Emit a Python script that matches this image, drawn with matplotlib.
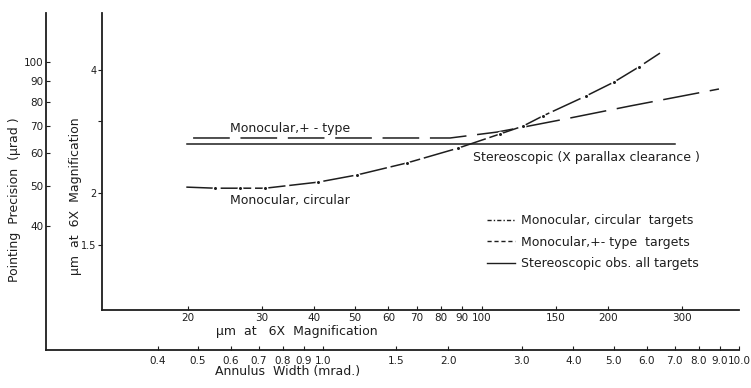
import numpy as np
import matplotlib
matplotlib.use("Agg")
import matplotlib.pyplot as plt
from matplotlib.lines import Line2D
from matplotlib.ticker import FixedLocator, FixedFormatter, NullLocator

###
# Data (outer axes = mrad / µrad)
###

# stereoscopic, X parallax clearance
stereo_mrad = [0.47, 7.0]
stereo_urad = [63.4, 63.4]

# monocular, +- type targets
plus_mrad = [0.487, 2.02, 2.62, 3.03, 3.71, 5.47, 8.95]
plus_urad = [65.4, 65.4, 67.6, 69.5, 72.3, 78.2, 86.0]

# monocular, circular targets (dots = measured points)
circ_mrad = [0.469, 0.550, 0.632, 0.726, 0.973, 1.207, 1.592, 2.112,
             2.665, 3.026, 3.379, 4.287, 5.006, 5.748, 6.457]
circ_urad = [49.7, 49.4, 49.4, 49.4, 51.1, 53.2, 56.9, 61.8,
             66.9, 69.9, 74.0, 82.7, 89.4, 97.3, 105.1]

# tick values
mrad_ticks = [0.4, 0.5, 0.6, 0.7, 0.8, 0.9, 1.0, 1.5, 2.0, 3.0, 4.0, 5.0, 6.0, 7.0, 8.0, 9.0, 10.0]
mrad_labels = ["0.4", "0.5", "0.6", "0.7", "0.8", "0.9", "1.0", "1.5", "2.0", "3.0", "4.0",
               "5.0", "6.0", "7.0", "8.0", "9.0", "10.0"]
urad_ticks = [40, 50, 60, 70, 80, 90, 100]
um_x_ticks = [20, 30, 40, 50, 60, 70, 80, 90, 100, 150, 200, 300]
um_y_ticks = [1.5, 2, 3, 4]
um_y_labels = ["1.5", "2", "", "4"]

###
# Figure
###
W, H = 751, 388
fig = plt.figure(figsize=(W / 100, H / 100), dpi=100)
plt.rcParams['font.family'] = 'DejaVu Sans'
ink = '#1e1e1e'

def fx(px):
    return px / W

def fy(py):
    return 1 - py / H

# outer axes (annulus width / pointing precision)
ax = fig.add_axes([fx(46), fy(350), fx(739 - 46), (350 - 13) / H])
ax.set_xscale('log')
ax.set_yscale('log')
ax.set_xlim(0.2157, 10.0)
ax.set_ylim(20.0, 131.5)

# inner axes (µm at 6X magnification)
ax2 = fig.add_axes([fx(102), fy(310), fx(739 - 102), (310 - 13) / H])
ax2.set_xscale('log')
ax2.set_yscale('log')
ax2.set_xlim(12.48, 410)
ax2.set_ylim(1.039, 5.51)
ax2.patch.set_alpha(0)

for a in (ax, ax2):
    a.spines['top'].set_visible(False)
    a.spines['right'].set_visible(False)
    a.spines['left'].set_color(ink)
    a.spines['bottom'].set_color(ink)
    a.spines['left'].set_linewidth(1.3)
    a.spines['bottom'].set_linewidth(1.3)
    a.xaxis.set_minor_locator(NullLocator())
    a.yaxis.set_minor_locator(NullLocator())

ax.xaxis.set_major_locator(FixedLocator(mrad_ticks))
ax.xaxis.set_major_formatter(FixedFormatter(mrad_labels))
ax.yaxis.set_major_locator(FixedLocator(urad_ticks))
ax.yaxis.set_major_formatter(FixedFormatter([str(v) for v in urad_ticks]))
ax.tick_params(axis='x', direction='in', length=3, pad=4, labelsize=7.5, colors=ink)
ax.tick_params(axis='y', direction='in', length=3, pad=2, labelsize=7.5, colors=ink)

ax2.xaxis.set_major_locator(FixedLocator(um_x_ticks))
ax2.xaxis.set_major_formatter(FixedFormatter([str(v) for v in um_x_ticks]))
ax2.yaxis.set_major_locator(FixedLocator(um_y_ticks))
ax2.yaxis.set_major_formatter(FixedFormatter(um_y_labels))
ax2.tick_params(axis='x', direction='in', length=3, pad=2, labelsize=7.5, colors=ink)
ax2.tick_params(axis='y', direction='out', length=3, pad=1, labelsize=7, colors=ink)

# curves
ax.plot(stereo_mrad, stereo_urad, color=ink, lw=1.1, zorder=3)
ax.plot(plus_mrad, plus_urad, color=ink, lw=1.1, dashes=(24, 7), zorder=3)
ax.plot(circ_mrad, circ_urad, color=ink, lw=1.1, dashes=(20, 2.5),
        marker='o', ms=3.2, mfc=ink, mec='white', mew=1.0,
        markevery=list(range(1, 14)), zorder=4)

# curve labels
fs = 9
ax.text(0.598, 69.1, "Monocular,+ - type", fontsize=fs, color=ink, va='center', ha='left')
ax.text(0.598, 46.2, "Monocular, circular", fontsize=fs, color=ink, va='center', ha='left')
ax.text(2.294, 58.8, "Stereoscopic (X parallax clearance )", fontsize=fs, color=ink,
        va='center', ha='left')

# legend
handles = [
    Line2D([], [], color=ink, lw=1.0, dashes=(3, 1.5, 1, 1.5)),
    Line2D([], [], color=ink, lw=1.0, dashes=(3, 2)),
    Line2D([], [], color=ink, lw=1.0),
]
labels = ["Monocular, circular  targets", "Monocular,+- type  targets",
          "Stereoscopic obs. all targets"]
fig.legend(handles, labels, loc='upper left', bbox_to_anchor=(fx(487), fy(214)),
           frameon=False, fontsize=9, handlelength=2.2, handletextpad=0.5,
           labelspacing=0.68, borderpad=0, borderaxespad=0, labelcolor=ink)

# axis labels
fig.text(fx(15), fy(200), "Pointing  Precision  (µrad )", rotation=90, ha='center',
         va='center', fontsize=fs, color=ink)
fig.text(fx(76), fy(196), "µm  at  6X  Magnification", rotation=90, ha='center',
         va='center', fontsize=fs, color=ink)
fig.text(fx(297), fy(332), "µm  at   6X  Magnification", ha='center', va='center',
         fontsize=fs, color=ink)
fig.text(fx(288), fy(372), "Annulus  Width (mrad.)", ha='center', va='center',
         fontsize=fs, color=ink)

plt.savefig('out.png', dpi=100)
